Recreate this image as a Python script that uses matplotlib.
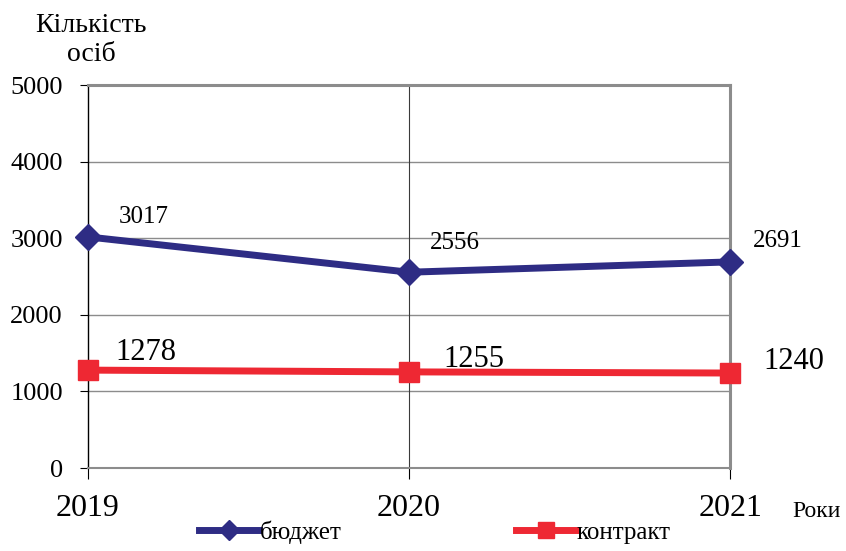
import matplotlib
matplotlib.use('Agg')
import matplotlib.pyplot as plt

plt.rcParams['font.family'] = ['Liberation Serif', 'DejaVu Serif']

years = ['2019', '2020', '2021']
budget = [3017, 2556, 2691]
contract = [1278, 1255, 1240]
y_ticks = [0, 1000, 2000, 3000, 4000, 5000]

BLUE = '#2E2C84'
RED = '#EE2833'
GRAY = '#8C8C8C'

fig = plt.figure(figsize=(8.46, 5.51), dpi=100)
ax = fig.add_axes([0.104, 0.1506, 0.759, 0.6951])

x = range(len(years))

# grid
for v in y_ticks[1:-1]:
    ax.axhline(v, color=GRAY, lw=1, zorder=1)
ax.axvline(1, color='#3a3a3a', lw=0.8, zorder=1)

ax.plot(x, budget, color=BLUE, lw=5, marker='D', markersize=13,
        label='бюджет', zorder=3, clip_on=False)
ax.plot(x, contract, color=RED, lw=5, marker='s', markersize=15,
        label='контракт', zorder=3, clip_on=False)

# data labels
budget_offsets = [(40, 14), (33, 21), (34, 15)]
contract_offsets = [(42, 13), (47, 9), (46, 8)]
for i, v in enumerate(budget):
    ax.annotate(str(v), (i, v), xytext=budget_offsets[i], textcoords='offset points',
                ha='center', va='center', fontsize=18)
for i, v in enumerate(contract):
    ax.annotate(str(v), (i, v), xytext=contract_offsets[i], textcoords='offset points',
                ha='center', va='center', fontsize=22)

ax.set_xlim(0, 2)
ax.set_ylim(0, 5000)
ax.set_xticks(list(x))
ax.set_xticklabels(years, fontsize=23)
ax.set_yticks(y_ticks)
ax.set_yticklabels([str(v) for v in y_ticks], fontsize=19)
ax.tick_params(axis='x', direction='out', length=8, width=0.8, pad=11, colors='black')
ax.tick_params(axis='y', direction='out', length=6, width=0.8, pad=12, colors='black')

ax.spines['left'].set_color('black')
ax.spines['left'].set_linewidth(1)
ax.spines['bottom'].set_color(GRAY)
ax.spines['bottom'].set_linewidth(1.5)
ax.spines['top'].set_color(GRAY)
ax.spines['top'].set_linewidth(2.2)
ax.spines['right'].set_color(GRAY)
ax.spines['right'].set_linewidth(2.2)

fig.text(0.108, 0.927, 'Кількість\nосіб', ha='center', va='center',
         fontsize=20, linespacing=1.2)
fig.text(0.965, 0.072, 'Роки', ha='center', va='center', fontsize=17)

fig.legend(loc='lower center', bbox_to_anchor=(0.514, -0.028), ncol=2, frameon=False,
           fontsize=18, handlelength=2.4, handletextpad=0.0, columnspacing=7.0,
           markerscale=0.8)

fig.savefig('out.png', dpi=100)
